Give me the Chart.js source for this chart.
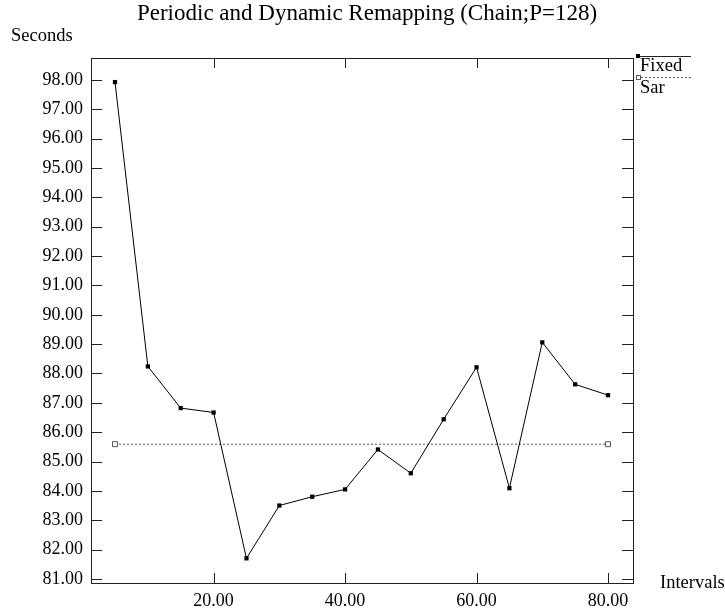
<!DOCTYPE html>
<html>
<head>
<meta charset="utf-8">
<script src="https://cdn.jsdelivr.net/npm/chart.js@4"></script>
<style>
  html, body { margin: 0; padding: 0; background: #fff; }
  #wrap { width: 725px; height: 609px; position: relative; }
</style>
</head>
<body>
<div id="wrap"><canvas id="remapChart"></canvas></div>
<script>
// datos
const intervals = [5, 10, 15, 20, 25, 30, 35, 40, 45, 50, 55, 60, 65, 70, 75, 80];
const fixedSecs = [97.93, 88.24, 86.82, 86.67, 81.70, 83.50, 83.80, 84.05, 85.41, 84.60, 86.44, 88.21, 84.09, 89.06, 87.63, 87.26];
const sarIntervals = [5, 80];
const sarSecs = [85.59, 85.59];
const xTicks = [20, 40, 60, 80];
const yTicks = [81, 82, 83, 84, 85, 86, 87, 88, 89, 90, 91, 92, 93, 94, 95, 96, 97, 98];

const serif = 'Liberation Serif, Times New Roman, serif';

// marco, ticks hacia dentro, títulos y leyenda
const framePlugin = {
    id: 'frame',
    afterDraw(chart) {
        const { ctx, chartArea: a, scales } = chart;
        ctx.save();
        ctx.strokeStyle = '#222';
        ctx.lineWidth = 1;
        ctx.strokeRect(a.left + 0.5, a.top + 0.5, a.right - a.left, a.bottom - a.top);

        ctx.beginPath();
        yTicks.forEach(v => {
            const y = Math.round(scales.y.getPixelForValue(v)) + 0.5;
            ctx.moveTo(a.left, y); ctx.lineTo(a.left + 11, y);
            ctx.moveTo(a.right, y); ctx.lineTo(a.right - 11, y);
        });
        xTicks.forEach(v => {
            const x = Math.round(scales.x.getPixelForValue(v)) + 0.5;
            ctx.moveTo(x, a.top); ctx.lineTo(x, a.top + 10);
            ctx.moveTo(x, a.bottom); ctx.lineTo(x, a.bottom - 10);
        });
        ctx.stroke();

        ctx.fillStyle = '#000';
        ctx.textBaseline = 'middle';
        ctx.font = '23px ' + serif;
        ctx.textAlign = 'center';
        ctx.fillText('Periodic and Dynamic Remapping (Chain;P=128)', 367, 14);
        ctx.textAlign = 'left';
        ctx.font = '18.5px ' + serif;
        ctx.fillText('Seconds', 11, 36);
        ctx.fillText('Intervals', 660, 583);

        // leyenda
        const lx = a.right + 4;
        ctx.beginPath();
        ctx.moveTo(lx, 56.5); ctx.lineTo(lx + 54, 56.5);
        ctx.stroke();
        ctx.fillRect(lx - 1, 54, 4, 4);
        ctx.setLineDash([2, 2]);
        ctx.strokeStyle = '#555';
        ctx.beginPath();
        ctx.moveTo(lx, 77.5); ctx.lineTo(lx + 54, 77.5);
        ctx.stroke();
        ctx.setLineDash([]);
        ctx.fillStyle = '#fff';
        ctx.fillRect(lx - 1, 75, 4, 4);
        ctx.strokeRect(lx - 0.5, 75.5, 4, 4);
        ctx.fillStyle = '#000';
        ctx.font = '18.5px ' + serif;
        ctx.fillText('Fixed', lx + 3, 66);
        ctx.fillText('Sar', lx + 3, 88);
        ctx.restore();
    }
};

const ctx = document.getElementById('remapChart').getContext('2d');
new Chart(ctx, {
    type: 'line',
    data: {
        datasets: [
            {
                label: 'Fixed',
                data: intervals.map((x, i) => ({ x, y: fixedSecs[i] })),
                borderColor: '#000',
                backgroundColor: '#000',
                borderWidth: 1,
                pointStyle: 'rect',
                pointRadius: 3,
                pointBorderWidth: 0,
                tension: 0
            },
            {
                label: 'Sar',
                data: sarIntervals.map((x, i) => ({ x, y: sarSecs[i] })),
                borderColor: '#555',
                backgroundColor: '#fff',
                borderWidth: 1,
                borderDash: [2, 2],
                pointStyle: 'rect',
                pointRadius: 3.5,
                pointBorderWidth: 1,
                tension: 0
            }
        ]
    },
    options: {
        responsive: true,
        maintainAspectRatio: false,
        animation: false,
        clip: false,
        layout: { padding: { left: 0, top: 58, right: 92, bottom: 0 } },
        plugins: {
            legend: { display: false },
            tooltip: { enabled: false },
            title: { display: false }
        },
        scales: {
            x: {
                type: 'linear',
                min: 1.35,
                max: 83.8,
                afterFit: s => { s.height = 26; },
                afterBuildTicks: s => { s.ticks = xTicks.map(v => ({ value: v })); },
                grid: { display: false, drawTicks: false },
                border: { display: false },
                ticks: {
                    padding: 7,
                    color: '#000',
                    maxRotation: 0,
                    font: { family: serif, size: 18 },
                    callback: v => v.toFixed(2)
                }
            },
            y: {
                type: 'linear',
                min: 80.86,
                max: 98.75,
                afterFit: s => { s.width = 91; },
                afterBuildTicks: s => { s.ticks = yTicks.map(v => ({ value: v })); },
                grid: { display: false, drawTicks: false },
                border: { display: false },
                ticks: {
                    padding: 8,
                    color: '#000',
                    font: { family: serif, size: 18 },
                    callback: v => v.toFixed(2)
                }
            }
        }
    },
    plugins: [framePlugin]
});
</script>
</body>
</html>
